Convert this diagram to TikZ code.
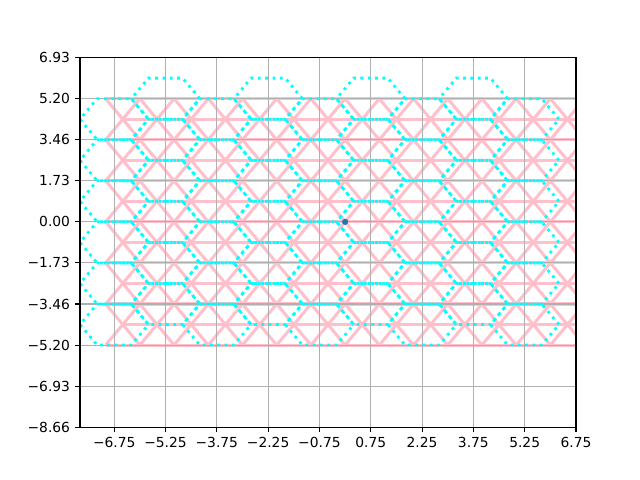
\documentclass[tikz,border=0pt]{standalone}
\usepackage{fontspec}
\setmainfont{DejaVu Sans}
\definecolor{pinkc}{HTML}{FFC0CB}
\definecolor{cyanc}{HTML}{00FFFF}
\definecolor{gridgray}{HTML}{B0B0B0}
\definecolor{dotblue}{HTML}{1F77B4}
\tikzset{
  gridl/.style={draw=gridgray,line width=0.8pt},
  pinkl/.style={draw=pinkc,line width=2.2pt},
  hexl/.style={draw=cyanc,line width=2pt,dash pattern=on 2pt off 3.3pt},
  spine/.style={draw=black,line width=0.8pt},
  tickl/.style={draw=black,line width=0.8pt},
  ticklab/.style={inner sep=0pt,font=\fontsize{10}{12}\selectfont}
}
\begin{document}
\begin{tikzpicture}[x=1in,y=1in]
\useasboundingbox (0,0) rectangle (6.4,4.8);
\begin{scope}[shift={(3.45103in,2.58139in)},x=0.342069in,y=0.237101in]
\begin{scope}
\clip (-7.75,-8.660254) rectangle (6.75,6.928203);
% pink triangular lattice: horizontal rows
\foreach \j in {-6,...,6} {
  \pgfmathsetmacro\off{mod(abs(\j),2)*0.5}
  \pgfmathsetmacro\yy{\j*0.8660254}
  \draw[pinkl] (-7+\off,\yy) -- (7+\off,\yy);
}
% pink diagonals
\foreach \j in {-6,...,5} {
  \pgfmathtruncatemacro\jp{mod(abs(\j),2)}
  \pgfmathsetmacro\off{\jp*0.5}
  \pgfmathsetmacro\ya{\j*0.8660254}
  \pgfmathsetmacro\yb{(\j+1)*0.8660254}
  \foreach \i in {-7,...,7} {
    \pgfmathsetmacro\xa{\i+\off}
    \draw[pinkl] (\xa,\ya) -- (\xa+0.5,\yb);
    \ifnum\jp=0
      \ifnum\i>-7
        \draw[pinkl] (\xa,\ya) -- (\xa-0.5,\yb);
      \fi
    \else
      \draw[pinkl] (\xa,\ya) -- (\xa-0.5,\yb);
    \fi
  }
}
\end{scope}
% grid (drawn above the pink lattice)
\foreach \xv in {-6.75,-5.25,-3.75,-2.25,-0.75,0.75,2.25,3.75,5.25,6.75}
  \draw[gridl] (\xv,-8.660254) -- (\xv,6.928203);
\foreach \k in {-5,...,4}
  \draw[gridl] (-7.75,\k*1.7320508) -- (6.75,\k*1.7320508);
\begin{scope}
\clip (-7.75,-8.660254) rectangle (6.75,6.928203);
% cyan hexagons
\foreach \i in {-5,...,3} {
  \foreach \j in {-5,...,6} {
    \pgfmathtruncatemacro\s{mod(abs(\i+\j),2)}
    \ifnum\s=0
      \pgfmathsetmacro\cx{0.75+1.5*\i}
      \pgfmathsetmacro\cy{0.8660254*\j}
      \draw[hexl] (\cx+1,\cy) -- (\cx+0.5,\cy+0.8660254) -- (\cx-0.5,\cy+0.8660254) -- (\cx-1,\cy) -- (\cx-0.5,\cy-0.8660254) -- (\cx+0.5,\cy-0.8660254) -- cycle;
    \fi
  }
}
\node[circle,fill=dotblue,inner sep=0pt,minimum size=4.5pt] (origin) at (0,0) {};
\end{scope}
% spines
\draw[spine] (-7.75,-8.660254) rectangle (6.75,6.928203);
% x ticks
\foreach \xv/\lab [count=\n] in {-6.75/−6.75,-5.25/−5.25,-3.75/−3.75,-2.25/−2.25,-0.75/−0.75,0.75/0.75,2.25/2.25,3.75/3.75,5.25/5.25,6.75/6.75} {
  \draw[tickl] (\xv,-8.660254) -- ++(0,-3.5pt);
  \node[ticklab,anchor=north] (xt\n) at ([yshift=-7pt]\xv,-8.660254) {\lab};
}
% y ticks
\foreach \k/\lab [count=\n] in {-5/−8.66,-4/−6.93,-3/−5.20,-2/−3.46,-1/−1.73,0/0.00,1/1.73,2/3.46,3/5.20,4/6.93} {
  \draw[tickl] (-7.75,\k*1.7320508) -- ++(-3.5pt,0);
  \node[ticklab,anchor=east] (yt\n) at ([xshift=-7pt]-7.75,\k*1.7320508) {\lab};
}
\end{scope}
\end{tikzpicture}
\end{document}
